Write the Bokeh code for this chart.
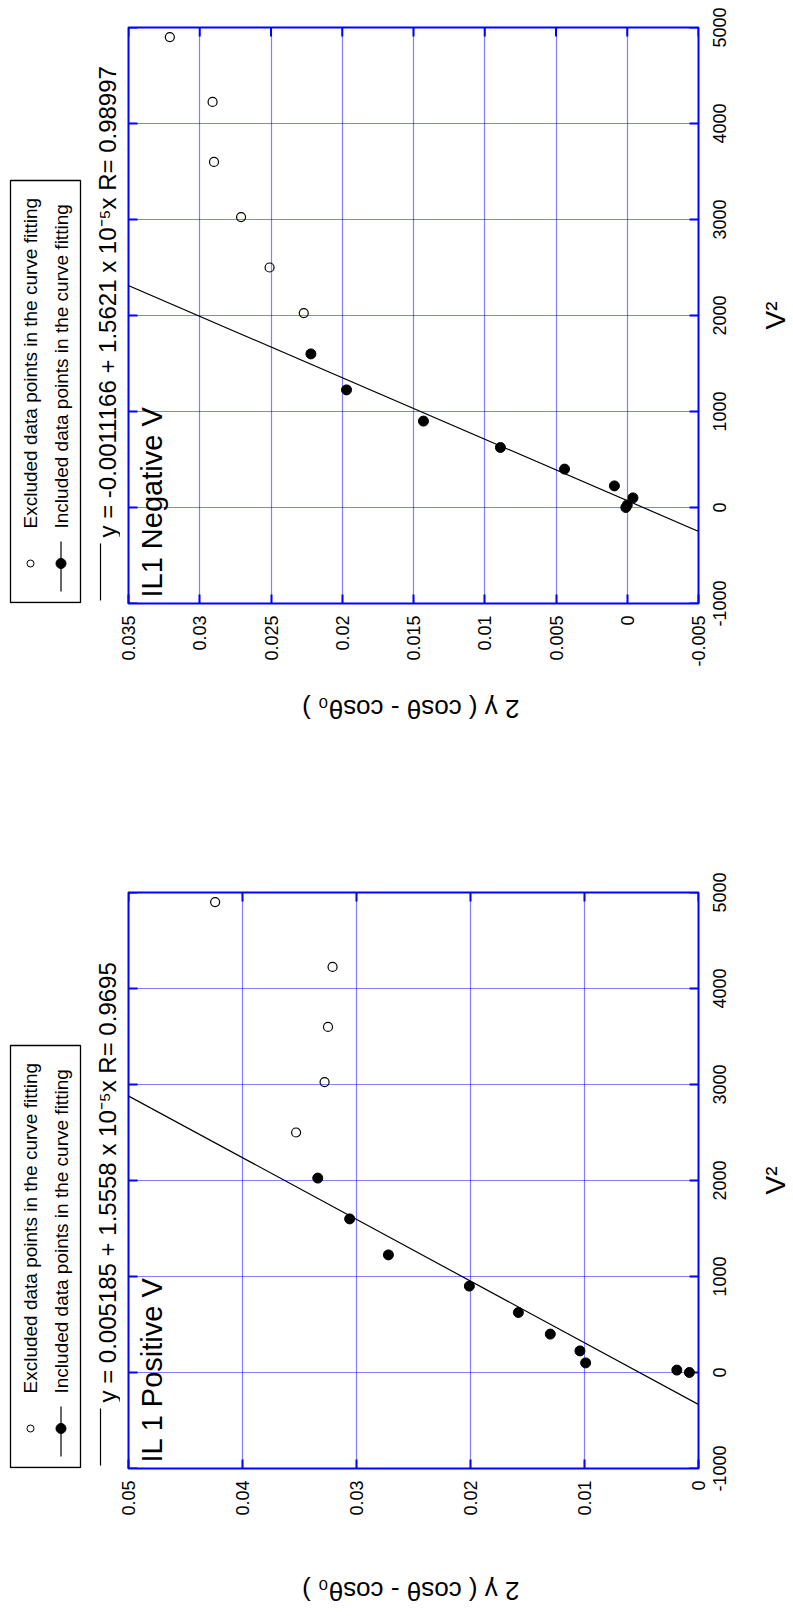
import math
from bokeh.plotting import figure
from bokeh.models import (Range1d, FixedTicker, LinearAxis, Label, Grid, Div,
                          CustomJSTickFormatter)
from bokeh.layouts import row, column
from bokeh.core.properties import value
from bokeh.embed import file_html
from bokeh.resources import INLINE

# ---------------- data ----------------
# Chart 1 (top): IL1 Negative V
neg_title = "IL1 Negative V"
neg_v2_included = [0, 25, 100, 225, 400, 625, 900, 1225, 1600]
neg_y_included = [0.0001, 0.0000, -0.0004, 0.0009, 0.0044, 0.0089, 0.0143, 0.0197, 0.0222]
neg_v2_excluded = [2025, 2500, 3025, 3600, 4225, 4900]
neg_y_excluded = [0.0227, 0.0251, 0.0271, 0.0290, 0.0291, 0.0321]
neg_intercept = -0.0011166
neg_slope = 1.5621e-5
neg_equation = "y = -0.0011166 + 1.5621 x 10\u207b\u2075x   R= 0.98997"
neg_y_ticks = [-0.005, 0, 0.005, 0.01, 0.015, 0.02, 0.025, 0.03, 0.035]
neg_y_range = [-0.005, 0.035]

# Chart 2 (bottom): IL 1 Positive V
pos_title = "IL 1 Positive V"
pos_v2_included = [0, 25, 100, 225, 400, 625, 900, 1225, 1600, 2025]
pos_y_included = [0.0008, 0.0019, 0.0099, 0.0104, 0.0130, 0.0158, 0.0201, 0.0272, 0.0306, 0.0334]
pos_v2_excluded = [2500, 3025, 3600, 4225, 4900]
pos_y_excluded = [0.0353, 0.0328, 0.0325, 0.0321, 0.0424]
pos_intercept = 0.005185
pos_slope = 1.5558e-5
pos_equation = "y = 0.005185 + 1.5558 x 10\u207b\u2075x   R= 0.9695"
pos_y_ticks = [0, 0.01, 0.02, 0.03, 0.04, 0.05]
pos_y_range = [0, 0.05]

v2_ticks = [-1000, 0, 1000, 2000, 3000, 4000, 5000]
v2_range = [-1000, 5000]

legend_excluded = "Excluded data points in the curve fitting"
legend_included = "Included data points in the curve fitting"
x_axis_title = "V\u00b2"
y_axis_title = "2 \u03b3 ( cos\u03b8 - cos\u03b8\u2080 )"

FONT = "Liberation Sans"
BLUE = "#0000ff"
FRAME_W, FRAME_H = 570, 576
SIDE_W = 120
LEFT = 8
MAIN_RIGHT = 11
RIGHT_W = 84
PAGE_W = SIDE_W + LEFT + FRAME_W + MAIN_RIGHT + RIGHT_W

fmt_code = "return String(Number(tick.toFixed(6)));"


def make_chart(title, v2_in, y_in, v2_ex, y_ex, a, b, eq, yticks, yrange,
               top_b, bottom_b):
    height = top_b + FRAME_H + bottom_b

    # ---------- main plot (rotated: V^2 vertical, y horizontal reversed) ----------
    p = figure(width=LEFT + FRAME_W + MAIN_RIGHT, height=height,
               x_range=Range1d(yrange[1], yrange[0]),
               y_range=Range1d(v2_range[0], v2_range[1]),
               x_axis_type=None, y_axis_type=None,
               min_border_left=LEFT, min_border_right=MAIN_RIGHT,
               min_border_top=top_b, min_border_bottom=bottom_b,
               output_backend="svg", toolbar_location=None)
    p.background_fill_color = "white"
    p.border_fill_color = "white"
    p.outline_line_color = BLUE
    p.outline_line_width = 2

    yt = FixedTicker(ticks=yticks)
    vt = FixedTicker(ticks=v2_ticks)

    p.add_layout(Grid(dimension=0, ticker=yt, grid_line_color=BLUE,
                      grid_line_dash="1 1", grid_line_width=1.2))
    p.add_layout(Grid(dimension=1, ticker=vt, grid_line_color=BLUE,
                      grid_line_dash="1 1", grid_line_width=1.2))

    ax_b = LinearAxis(ticker=yt, formatter=CustomJSTickFormatter(code=fmt_code),
                      major_label_orientation=math.pi / 2,
                      major_tick_in=9, major_tick_out=0,
                      major_tick_line_color=BLUE, major_tick_line_width=2,
                      minor_tick_line_color=None, axis_line_color=None,
                      major_label_text_font=FONT, major_label_text_font_size="18px",
                      major_label_text_color="black", major_label_standoff=12)
    p.add_layout(ax_b, "below")

    # ticks on the other three frame edges (outer half of each dash is clipped)
    p.scatter(x=[yrange[1]] * len(v2_ticks), y=v2_ticks, marker="dash", size=18,
              line_color=BLUE, line_width=2)
    p.scatter(x=[yrange[0]] * len(v2_ticks), y=v2_ticks, marker="dash", size=18,
              line_color=BLUE, line_width=2)
    p.scatter(x=yticks, y=[v2_range[1]] * len(yticks), marker="dash", size=18,
              angle=math.pi / 2, line_color=BLUE, line_width=2)

    # fit line
    fit_x = [a + b * v for v in v2_range]
    p.line(x=fit_x, y=v2_range, line_color="black", line_width=1.2)
    # points
    p.scatter(x=y_ex, y=v2_ex, marker="circle", size=9, fill_color=None,
              line_color="black", line_width=1.2)
    p.scatter(x=y_in, y=v2_in, marker="circle", size=10, fill_color="black",
              line_color="black")

    p.add_layout(Label(x=23, y=6, x_units="screen", y_units="screen", text=title,
                       angle=math.pi / 2, text_align="left", text_baseline="middle",
                       text_font=FONT, text_font_size="29px", text_color="black"))

    # ---------- right strip: V^2 tick labels (left axis reads bottom-to-top) ----------
    r = figure(width=RIGHT_W, height=height,
               x_range=Range1d(0, 1), y_range=Range1d(v2_range[0], v2_range[1]),
               x_axis_type=None, y_axis_type=None,
               min_border_left=23, min_border_right=0,
               min_border_top=top_b, min_border_bottom=bottom_b,
               output_backend="svg", toolbar_location=None)
    r.outline_line_color = None
    r.background_fill_color = "white"
    r.border_fill_color = "white"
    ax_v = LinearAxis(ticker=vt, formatter=CustomJSTickFormatter(code=fmt_code),
                      major_label_orientation="vertical",
                      major_tick_line_color=None, minor_tick_line_color=None,
                      axis_line_color=None, major_tick_in=0, major_tick_out=0,
                      major_label_text_font=FONT, major_label_text_font_size="18px",
                      major_label_text_color="black", major_label_standoff=8)
    r.add_layout(ax_v, "left")
    r.text(x=[1], y=[(v2_range[0] + v2_range[1]) / 2], text=[x_axis_title],
           x_offset=-18, angle=math.pi / 2, text_align="center",
           text_baseline="middle", text_font=value(FONT), text_font_size="28px",
           text_color="black")

    # ---------- side panel: legend and fit equation (1 unit = 1 px) ----------
    s = figure(width=SIDE_W, height=height,
               x_range=Range1d(0, SIDE_W), y_range=Range1d(0, FRAME_H),
               x_axis_type=None, y_axis_type=None,
               min_border_left=0, min_border_right=0,
               min_border_top=top_b, min_border_bottom=bottom_b,
               output_backend="svg", toolbar_location=None)
    s.outline_line_color = None
    s.background_fill_color = "white"
    s.border_fill_color = "white"

    s.quad(left=[10], right=[80], bottom=[1], top=[423], fill_color=None,
           line_color="black", line_width=1.3)
    s.scatter(x=[30], y=[40], marker="circle", size=7, fill_color=None,
              line_color="black", line_width=1)
    s.line(x=[60.5, 60.5], y=[12, 62], line_color="black", line_width=1.2)
    s.scatter(x=[60.5], y=[40], marker="circle", size=10, fill_color="black",
              line_color="black")
    s.text(x=[30, 60.5], y=[75, 75], text=[legend_excluded, legend_included],
           angle=math.pi / 2, text_align="left", text_baseline="middle",
           text_font=value(FONT), text_font_size="19px", text_color="black")
    s.line(x=[100, 100], y=[3, 60], line_color="black", line_width=1.2)
    s.text(x=[107], y=[66], text=[eq], angle=math.pi / 2, text_align="left",
           text_baseline="middle", text_font=value(FONT), text_font_size="24px",
           text_color="black")

    return row(s, p, r)


def y_title_div():
    # y-axis title of the rotated chart: upside down, centred under the frame
    center = SIDE_W + LEFT + FRAME_W / 2 - 2
    pad = 2 * center - PAGE_W
    html = (
        f'<div style="width:{PAGE_W}px;height:36px;display:flex;align-items:center;'
        f'justify-content:center;box-sizing:border-box;padding-left:{pad}px;">'
        f'<span style="display:inline-block;transform:rotate(180deg);'
        f'font-family:\'{FONT}\';font-size:26px;color:black;white-space:nowrap;'
        f'line-height:30px;">{y_axis_title}</span></div>'
    )
    return Div(text=html, width=PAGE_W, height=36, margin=0)


top = make_chart(neg_title, neg_v2_included, neg_y_included, neg_v2_excluded,
                 neg_y_excluded, neg_intercept, neg_slope, neg_equation,
                 neg_y_ticks, neg_y_range, 27, 88)
bottom = make_chart(pos_title, pos_v2_included, pos_y_included, pos_v2_excluded,
                    pos_y_excluded, pos_intercept, pos_slope, pos_equation,
                    pos_y_ticks, pos_y_range, 165, 105)

layout = column(top, y_title_div(), bottom, y_title_div())
open("out.html", "w").write(file_html(layout, INLINE))
